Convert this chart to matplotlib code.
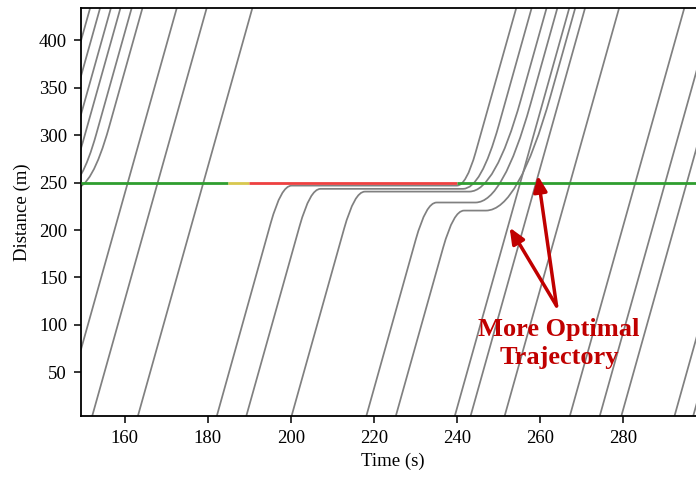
import numpy as np
import matplotlib
matplotlib.use("Agg")
import matplotlib.pyplot as plt
from matplotlib.path import Path
from matplotlib.patches import PathPatch

plt.rcParams["font.family"] = "Liberation Serif"
plt.rcParams["font.size"] = 13.5

# free-flow speed (m/s) and plotted ranges
speed = 15.6
t_range = (149.5, 299.5)
d_range = (4, 434)
stop_line = 250

# signal phases at the stop line
phase_start = [149.5, 185.0, 190.0, 240.0]
phase_end = [185.0, 190.0, 240.0, 299.5]
phase_color = ["#2f9e2f", "#d8c84e", "#ee4040", "#2f9e2f"]

# vehicles passing without stopping: time they pass the bottom of the plot (d=4 m)
free_t = [145.0, 152.2, 163.2, 239.5, 243.3, 251.5, 267.2, 274.4, 279.6, 292.4, 296.9]

# vehicles stopped by the red light
queue_bottom_t = [182.2, 189.3, 200.2, 218.2, 225.3]
queue_stop_d = [246.8, 243.4, 240.5, 229.0, 220.5]
queue_stop_t = [197.7, 204.65, 215.35, 232.6, 239.2]
queue_go_t = [242.26, 245.8, 249.2, 251.1, 254.8]
queue_top_t = [254.3, 258.0, 261.6, 264.2, 268.5]
queue_brake = [2.5, 2.5, 2.5, 2.5, 2.5]
queue_accel = [2.26, 4.3, 6.2, 6.6, 7.8]

# queue of the previous cycle, leaving on the left edge
prev_stop_d = [249, 248, 247, 246, 245, 244]
prev_go_t = [139.84, 142.18, 144.71, 146.95, 149.58, 152.12]
prev_top_t = [151.7, 154.1, 156.7, 159.0, 161.7, 164.3]
prev_accel = [1.84, 2.18, 2.71, 2.95, 3.58, 4.12]

# arrows of the note: tail and heads (t, d)
arrow_tail = (264.0, 120.0)
arrow_heads = [(252.7, 202.6), (259.5, 257.4)]


def rounded_path(ts, ds, bends):
    # polyline with quadratic corners (uniform accel/decel)
    verts = [(ts[0], ds[0])]
    codes = [Path.MOVETO]
    for i in range(1, len(ts) - 1):
        b = bends[i - 1]
        f_in = (ts[i] - b - ts[i - 1]) / (ts[i] - ts[i - 1])
        p_in = (ts[i] - b, ds[i - 1] + f_in * (ds[i] - ds[i - 1]))
        f_out = b / (ts[i + 1] - ts[i])
        p_out = (ts[i] + b, ds[i] + f_out * (ds[i + 1] - ds[i]))
        verts += [p_in, (ts[i], ds[i]), p_out]
        codes += [Path.LINETO, Path.CURVE3, Path.CURVE3]
    verts.append((ts[-1], ds[-1]))
    codes.append(Path.LINETO)
    return Path(verts, codes)


fig = plt.figure(figsize=(6.96, 4.78), dpi=100)
ax = fig.add_axes([81 / 696, 62 / 478, 623 / 696, 408 / 478])

line_kw = dict(color="#808080", lw=1.25)

for t in free_t:
    ax.axline((t, d_range[0]), slope=speed, **line_kw)

for i in range(len(queue_stop_d)):
    p = rounded_path(
        [queue_bottom_t[i], queue_stop_t[i], queue_go_t[i], queue_top_t[i]],
        [d_range[0], queue_stop_d[i], queue_stop_d[i], d_range[1]],
        [queue_brake[i], queue_accel[i]],
    )
    ax.add_patch(PathPatch(p, fill=False, **line_kw))

for i in range(len(prev_stop_d)):
    p = rounded_path(
        [prev_go_t[i] - 15, prev_go_t[i], prev_top_t[i]],
        [prev_stop_d[i], prev_stop_d[i], d_range[1]],
        [prev_accel[i]],
    )
    ax.add_patch(PathPatch(p, fill=False, **line_kw))

ax.hlines([stop_line] * len(phase_start), phase_start, phase_end,
          colors=phase_color, lw=2, zorder=5)

for head in arrow_heads:
    ax.annotate("", xy=head, xytext=arrow_tail,
                arrowprops=dict(arrowstyle="-|>,head_length=0.7,head_width=0.3",
                                color="#c00000", lw=2.5, shrinkA=0, shrinkB=0),
                zorder=6)
ax.text(264.6, 80.5, "More Optimal\nTrajectory", color="#c00000", fontsize=19,
        fontweight="bold", ha="center", va="center", linespacing=1.27, zorder=6)

ax.set_xlim(*t_range)
ax.set_ylim(*d_range)
ax.set_xticks([160, 180, 200, 220, 240, 260, 280])
ax.set_yticks([50, 100, 150, 200, 250, 300, 350, 400])
ax.tick_params(direction="out", length=5, width=1.1, pad=5)
for s in ax.spines.values():
    s.set_linewidth(1.3)
ax.set_xlabel("Time (s)", labelpad=4)
ax.set_ylabel("Distance (m)", labelpad=6)

fig.savefig("out.png", dpi=100)
